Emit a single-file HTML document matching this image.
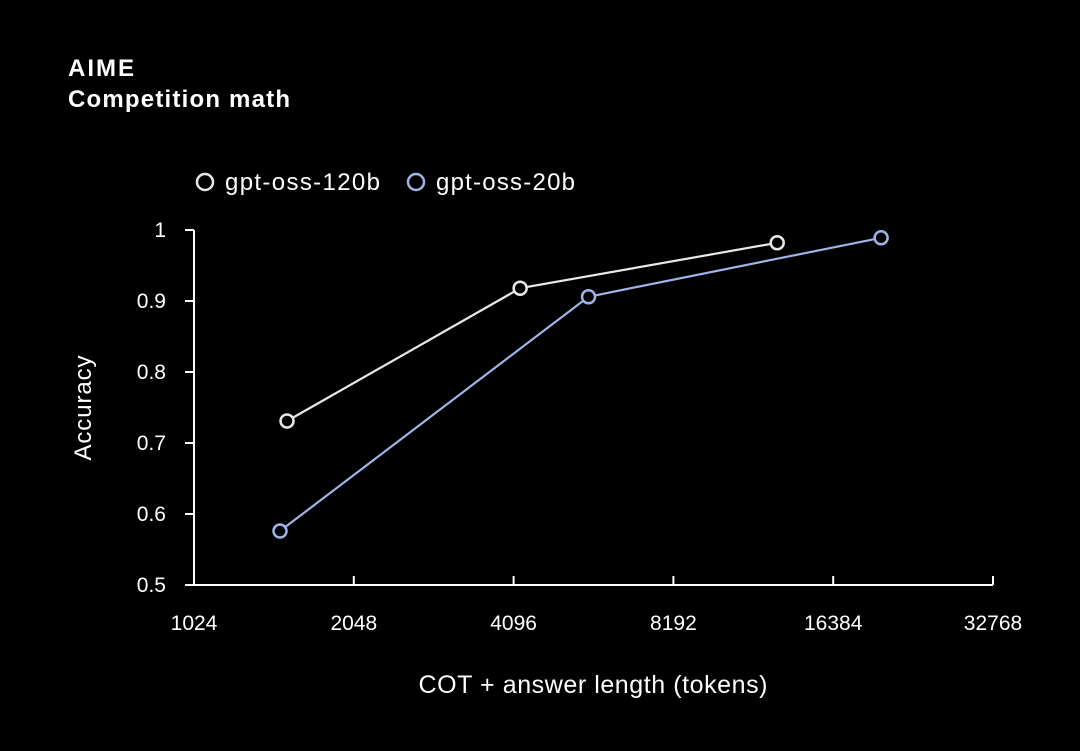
<!DOCTYPE html>
<html><head><meta charset="utf-8"><style>
html,body{margin:0;padding:0;background:#000;}
svg{display:block;font-family:"Liberation Sans",Arial,sans-serif;}
</style></head><body>
<svg id="chart" width="1080" height="751" viewBox="0 0 1080 751">
<rect width="1080" height="751" fill="#000"/>
<text x="68" y="76" fill="#fff" font-size="24" font-weight="bold" textLength="66">AIME</text>
<text x="68" y="107" fill="#fff" font-size="24" font-weight="bold" textLength="222">Competition math</text>
<g>
<g><circle cx="205" cy="182" r="8" fill="#000" stroke="#e8e8e8" stroke-width="2.5"/><text x="225" y="190" fill="#fff" font-size="24" textLength="155">gpt-oss-120b</text></g>
<g><circle cx="416" cy="182" r="8" fill="#000" stroke="#9fb3e8" stroke-width="2.5"/><text x="436" y="190" fill="#fff" font-size="24" textLength="139">gpt-oss-20b</text></g>
</g>
<g id="axes"></g>
<g id="marks"></g>
<text x="593" y="693" fill="#fff" font-size="25" text-anchor="middle" textLength="349">COT + answer length (tokens)</text>
<text transform="translate(91,408) rotate(-90)" fill="#fff" font-size="24" text-anchor="middle" textLength="105">Accuracy</text>
</svg>
<script>
const xTicks=[1024,2048,4096,8192,16384,32768];
const yTicks=[0.5,0.6,0.7,0.8,0.9,1];
const yTickLabels=["0.5","0.6","0.7","0.8","0.9","1"];
const tokens120b=[1533,4214,12851];
const acc120b=[0.731,0.918,0.982];
const tokens20b=[1487,5669,20170];
const acc20b=[0.576,0.906,0.989];

const NS="http://www.w3.org/2000/svg";
const X0=194,X1=993,Y0=585,Y1=230;
function xs(v){return X0+(Math.log2(v)-10)/5*(X1-X0);}
function ys(v){return Y0-(v-0.5)/0.5*(Y0-Y1);}
function mk(t,a,p){const e=document.createElementNS(NS,t);for(const k in a)e.setAttribute(k,a[k]);p.appendChild(e);return e;}
const axes=document.getElementById('axes'),marks=document.getElementById('marks');
let l=mk('line',{x1:X0,y1:Y0,x2:X1,y2:Y0,stroke:'#fff','stroke-width':2},axes);


l=mk('line',{x1:X0,y1:Y0,x2:X0,y2:Y1,stroke:'#fff','stroke-width':2},axes);


xTicks.forEach(v=>{const x=xs(v);
 const t=mk('line',{x1:x,y1:Y0,x2:x,y2:Y0-9,stroke:'#fff','stroke-width':2},axes);
 
 
 const tx=mk('text',{x:x,y:630,fill:'#fff','font-size':21,'text-anchor':'middle'},axes);tx.textContent=v;
 
 
});
yTicks.forEach((v,i)=>{const y=ys(v);
 const t=mk('line',{x1:X0-9,y1:y,x2:X0,y2:y,stroke:'#fff','stroke-width':2},axes);
 
 
 const tx=mk('text',{x:166,y:y+7,fill:'#fff','font-size':21,'text-anchor':'end'},axes);tx.textContent=yTickLabels[i];
 
 
});
function series(xv,yv,color,name){
 const pts=xv.map((v,i)=>xs(v)+','+ys(yv[i])).join(' ');
 const pl=mk('polyline',{points:pts,fill:'none',stroke:color,'stroke-width':2.2},marks);
 
 
 xv.forEach((v,i)=>{const c=mk('circle',{cx:xs(v),cy:ys(yv[i]),r:6.5,fill:'#000',stroke:color,'stroke-width':2.5},marks);
  
  });
}
series(tokens120b,acc120b,'#e8e8e8','gpt-oss-120b');
series(tokens20b,acc20b,'#9fb3e8','gpt-oss-20b');
</script>
</body></html>
